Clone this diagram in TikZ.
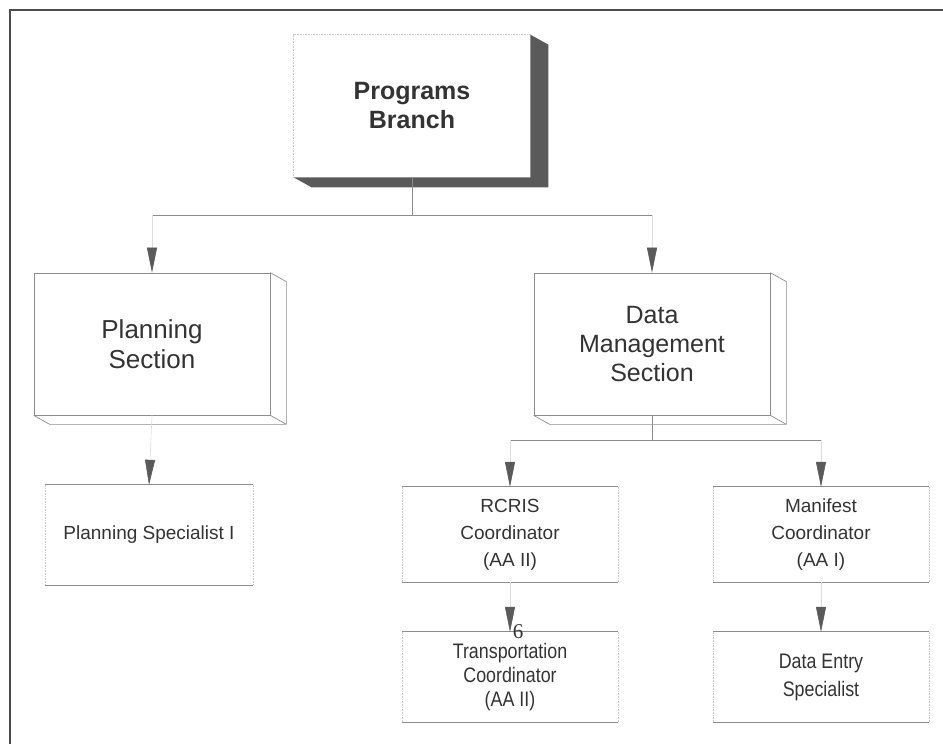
\documentclass[tikz,border=0pt]{standalone}
\usepackage{fontspec}
\setmainfont{Liberation Sans}
\newfontfamily\narrowfont[FakeStretch=0.85]{Liberation Sans}
\newfontfamily\pagefont{Liberation Serif}
\usetikzlibrary{arrows.meta}
\definecolor{inkgray}{HTML}{333333}
\definecolor{rulegray}{HTML}{8C8C8C}
\definecolor{shadowgray}{HTML}{5A5A5A}

\begin{document}
\begin{tikzpicture}[x=1pt, y=-1pt,
    sect/.style={rectangle, draw=rulegray, line width=0.7pt, minimum width=236pt, minimum height=142pt,
        align=center, text=inkgray, font=\fontsize{25}{29}\selectfont},
    depth/.style={draw=rulegray, line width=0.7pt},
    post/.style={rectangle, minimum width=216pt, align=center, text=inkgray},
    rule/.style={draw=rulegray, line width=0.8pt},
    side/.style={draw=rulegray!45, line width=0.6pt, densely dotted},
    conn/.style={draw=rulegray, line width=0.8pt},
    arr/.style={draw=rulegray!30, line width=0.6pt, -{Triangle[length=25pt, width=10pt, color=shadowgray]}}]
    \useasboundingbox (0,0) rectangle (943,744);
    % Frame
    \draw[line width=2.2pt, black!70] (10,744) -- (10,10) -- (943,10);
    % Branch
    \node[sect, draw=none, font=\fontsize{25}{29}\selectfont\bfseries] (prog) at (412,106) {Programs\\Branch};
    \fill[shadowgray] (prog.north east) -- ++(18,10) -- ([shift={(18,10)}]prog.south east)
        -- ([shift={(18,10)}]prog.south west) -- (prog.south west) -- (prog.south east) -- cycle;
    \draw[side] (prog.south west) -- (prog.north west) -- (prog.north east);
    % Sections
    \node[sect, font=\fontsize{26}{30}\selectfont] (plan) at (152,344) {Planning\\Section};
    \node[sect] (dms) at (652,344) {Data\\Management\\Section};
    \foreach \s in {plan,dms} {
        \draw[depth] (\s.north east) -- ++(16,9) -- ([shift={(16,9)}]\s.south east)
            -- ([shift={(16,9)}]\s.south west) -- (\s.south west) (\s.south east) -- ++(16,9);
    }
    % Positions
    \node[post, minimum width=208pt, minimum height=100pt, font=\fontsize{19}{23}\selectfont] (pspec) at (149,535) {Planning Specialist I};
    \node[post, minimum height=95pt, font=\fontsize{19}{27}\selectfont] (rcris) at (510,534.5) {RCRIS\\Coordinator\\(AA II)};
    \node[post, minimum height=95pt, font=\fontsize{19}{27}\selectfont] (manif) at (821,534.5) {Manifest\\Coordinator\\(AA I)};
    \node[post, minimum height=90pt, font=\narrowfont\fontsize{21}{24}\selectfont] (trans) at (510,677) {Transportation\\Coordinator\\(AA II)};
    \node[post, minimum height=90pt, font=\narrowfont\fontsize{21}{28}\selectfont] (dentry) at (821,677) {Data Entry\\Specialist};
    \foreach \n in {pspec,rcris,manif,trans,dentry} {
        \draw[rule] (\n.north west) -- (\n.north east) (\n.south west) -- (\n.south east);
        \draw[side] (\n.north west) -- (\n.south west) (\n.north east) -- (\n.south east);
    }
    \node[text=inkgray, font=\pagefont\fontsize{21}{21}\selectfont, inner sep=0pt] (pgno) at (518,632) {6};
    % Connectors
    \coordinate (bus1) at (412,215);
    \coordinate (bus2) at (652,440);
    \draw[conn] (prog.south) -- (bus1);
    \draw[conn] (plan.north |- bus1) -- (dms.north |- bus1);
    \draw[arr] (plan.north |- bus1) -- (plan.north);
    \draw[arr] (dms.north |- bus1) -- (dms.north);
    \draw[conn] (dms.south) -- (bus2);
    \draw[conn] (rcris.north |- bus2) -- (manif.north |- bus2);
    \draw[arr] (rcris.north |- bus2) -- (rcris.north);
    \draw[arr] (manif.north |- bus2) -- (manif.north);
    \draw[arr] (plan.south) -- (pspec.north);
    \draw[arr] (rcris.south) -- (trans.north);
    \draw[arr] (manif.south) -- (dentry.north);
\end{tikzpicture}
\end{document}
